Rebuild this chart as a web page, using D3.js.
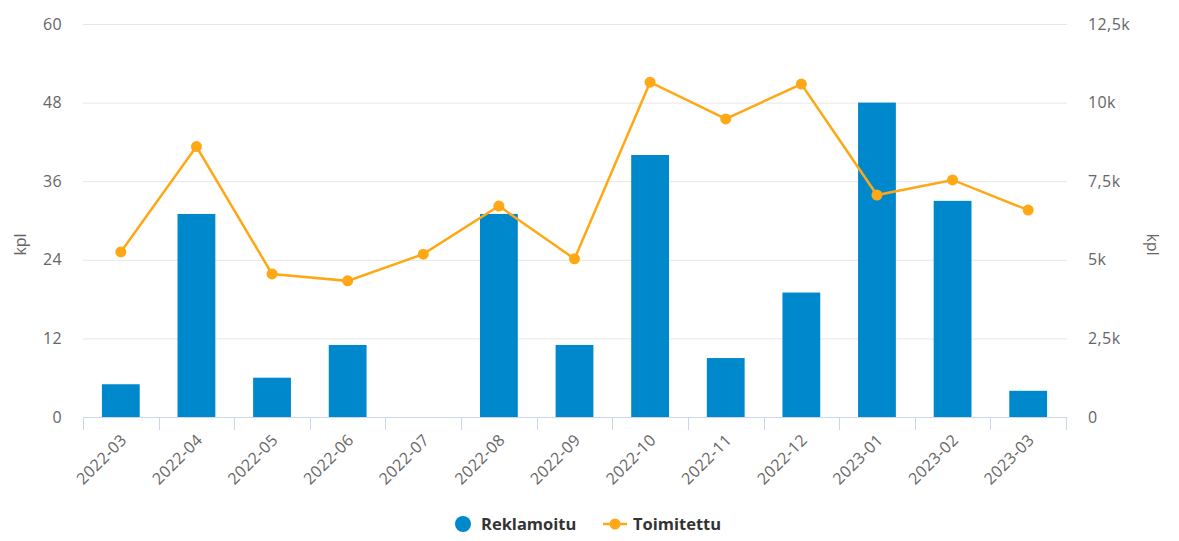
<!DOCTYPE html>
<html>
<head>
<meta charset="utf-8">
<script src="https://cdn.jsdelivr.net/npm/d3@7"></script>
<style>
  body { margin: 0; background: #fff; font-family: "Open Sans", "DejaVu Sans", sans-serif; }
  .tick text { fill: #666; font-size: 16px; letter-spacing: 0.4px; font-family: "Open Sans", sans-serif; }
</style>
</head>
<body>
<div id="chart"></div>
<script>
var months = ["2022-03", "2022-04", "2022-05", "2022-06", "2022-07", "2022-08", "2022-09",
    "2022-10", "2022-11", "2022-12", "2023-01", "2023-02", "2023-03"];
var reklamoitu = [5, 31, 6, 11, 0, 31, 11, 40, 9, 19, 48, 33, 4];
var toimitettu = [5250, 8600, 4550, 4330, 5180, 6710, 5030, 10650, 9480, 10590, 7060, 7540, 6580];
var leftTicks = [0, 12, 24, 36, 48, 60];
var rightTicks = [0, 2500, 5000, 7500, 10000, 12500];

var svgWidth = 1179;
var svgHeight = 541;
var margin = { top: 24, right: 113, bottom: 124, left: 83 };
var width = svgWidth - margin.left - margin.right;
var height = svgHeight - margin.top - margin.bottom;

var barColor = "#0088cc";
var lineColor = "#ffa816";

var svg = d3.select("#chart")
    .append("svg")
    .attr("width", svgWidth)
    .attr("height", svgHeight);

var chartGroup = svg.append("g")
    .attr("transform", `translate(${margin.left}, ${margin.top})`);

var xScale = d3.scaleBand()
    .domain(months)
    .range([0, width])
    .paddingInner(0.5)
    .paddingOuter(0.25);

var yLeft = d3.scaleLinear().domain([0, 60]).range([height, 0]);
var yRight = d3.scaleLinear().domain([0, 12500]).range([height, 0]);

// gridlines
chartGroup.selectAll(".grid")
    .data(leftTicks)
    .enter()
    .append("line")
    .attr("x1", 0)
    .attr("x2", width + 1)
    .attr("y1", d => yLeft(d) + 0.5)
    .attr("y2", d => yLeft(d) + 0.5)
    .attr("stroke", "#e6e6e6")
    .attr("stroke-width", 1);

// bars
chartGroup.selectAll(".bar")
    .data(reklamoitu)
    .enter()
    .append("rect")
    .attr("x", (d, i) => xScale(months[i]))
    .attr("y", d => yLeft(d))
    .attr("width", xScale.bandwidth())
    .attr("height", d => height - yLeft(d))
    .attr("fill", barColor);

// x axis
var step = xScale.step();
var xAxis = chartGroup.append("g")
    .attr("transform", `translate(0, ${height})`);
xAxis.append("line")
    .attr("x1", 0).attr("x2", width)
    .attr("y1", 0.5).attr("y2", 0.5)
    .attr("stroke", "#ccd6eb");
xAxis.selectAll(".xtick")
    .data(d3.range(months.length + 1))
    .enter()
    .append("line")
    .attr("x1", i => Math.round(i * step) + 0.5)
    .attr("x2", i => Math.round(i * step) + 0.5)
    .attr("y1", 0)
    .attr("y2", 13)
    .attr("stroke", "#ccd6eb");
xAxis.selectAll(".xlabel")
    .data(months)
    .enter()
    .append("text")
    .attr("transform", d => `translate(${xScale(d) + xScale.bandwidth() / 2 + 7}, 24) rotate(-45)`)
    .attr("text-anchor", "end")
    .attr("fill", "#666")
    .attr("font-size", "16px")
    .attr("letter-spacing", "0.4px")
    .text(d => d);

// left axis
var leftAxis = d3.axisLeft(yLeft).tickValues(leftTicks).tickSize(0).tickPadding(21);
chartGroup.append("g")
    .call(leftAxis)
    .call(g => g.select(".domain").remove());

// right axis
var fmtRight = d => d === 0 ? "0" : (d / 1000).toString().replace(".", ",") + "k";
var rightAxis = d3.axisRight(yRight).tickValues(rightTicks).tickSize(0).tickPadding(22).tickFormat(fmtRight);
chartGroup.append("g")
    .attr("transform", `translate(${width}, 0)`)
    .call(rightAxis)
    .call(g => g.select(".domain").remove());

// axis titles
svg.append("text")
    .attr("transform", `translate(26, ${margin.top + height / 2 + 24}) rotate(-90)`)
    .attr("text-anchor", "middle")
    .attr("fill", "#666")
    .attr("font-size", "16px")
    .text("kpl");
svg.append("text")
    .attr("transform", `translate(1147, ${margin.top + height / 2 + 24}) rotate(90)`)
    .attr("text-anchor", "middle")
    .attr("fill", "#666")
    .attr("font-size", "16px")
    .text("kpl");

// line
var line = d3.line()
    .x((d, i) => xScale(months[i]) + xScale.bandwidth() / 2)
    .y(d => yRight(d));

chartGroup.append("path")
    .datum(toimitettu)
    .attr("d", line)
    .attr("fill", "none")
    .attr("stroke", lineColor)
    .attr("stroke-width", 2.5);

chartGroup.selectAll(".dot")
    .data(toimitettu)
    .enter()
    .append("circle")
    .attr("cx", (d, i) => xScale(months[i]) + xScale.bandwidth() / 2)
    .attr("cy", d => yRight(d))
    .attr("r", 5.5)
    .attr("fill", lineColor);

// legend
var legend = svg.append("g").attr("transform", "translate(0, 524)");
legend.append("circle")
    .attr("cx", 463).attr("cy", 0).attr("r", 8)
    .attr("fill", barColor);
legend.append("text")
    .attr("x", 481).attr("y", 6)
    .attr("font-size", "16.5px").attr("font-weight", "bold")
    .attr("fill", "#333")
    .text("Reklamoitu");
legend.append("line")
    .attr("x1", 603).attr("x2", 627).attr("y1", 0).attr("y2", 0)
    .attr("stroke", lineColor).attr("stroke-width", 2.5);
legend.append("circle")
    .attr("cx", 615).attr("cy", 0).attr("r", 5.5)
    .attr("fill", lineColor);
legend.append("text")
    .attr("x", 633).attr("y", 6)
    .attr("font-size", "16.5px").attr("font-weight", "bold")
    .attr("fill", "#333")
    .text("Toimitettu");
</script>
</body>
</html>
